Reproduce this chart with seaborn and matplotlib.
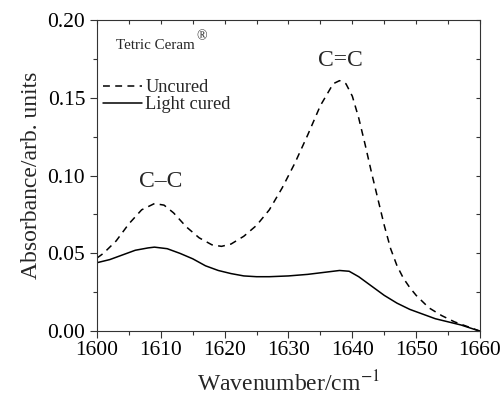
import numpy as np
import pandas as pd
import matplotlib
matplotlib.use('Agg')
import matplotlib.pyplot as plt
import seaborn as sns
from matplotlib.ticker import MultipleLocator

# Spectra
wn_uncured = [1600, 1601, 1603, 1605, 1607, 1609, 1610.5, 1612, 1614, 1616, 1618, 1619.5, 1621,
              1623, 1625, 1627, 1629, 1631, 1633, 1635, 1637, 1638, 1639, 1640, 1641, 1642,
              1643, 1644, 1645, 1646, 1647, 1648, 1649, 1650, 1652, 1654, 1656, 1658, 1660]
abs_uncured = [0.047, 0.050, 0.058, 0.069, 0.078, 0.082, 0.081, 0.076, 0.067, 0.060, 0.0555, 0.0545, 0.056,
               0.061, 0.068, 0.078, 0.092, 0.108, 0.126, 0.145, 0.159, 0.161, 0.159, 0.151, 0.137, 0.120,
               0.102, 0.085, 0.068, 0.053, 0.042, 0.034, 0.028, 0.023, 0.015, 0.010, 0.006, 0.003, 0.0]

wn_cured = [1600, 1602, 1604, 1606, 1608, 1609, 1611, 1613, 1615, 1617, 1619, 1621, 1623, 1625,
            1627, 1630, 1633, 1636, 1638, 1639.5, 1641, 1643, 1645, 1647, 1649, 1651, 1653,
            1655, 1657, 1660]
abs_cured = [0.044, 0.046, 0.049, 0.052, 0.0535, 0.054, 0.053, 0.050, 0.0465, 0.042, 0.039, 0.037, 0.0355, 0.035,
             0.035, 0.0355, 0.0365, 0.038, 0.039, 0.0385, 0.035, 0.029, 0.023, 0.018, 0.014, 0.011, 0.008,
             0.006, 0.004, 0.0]

sns.set_style('ticks')
plt.rcParams['font.family'] = ['Liberation Serif', 'DejaVu Serif']
plt.rcParams['mathtext.fontset'] = 'stix'

fig, ax = plt.subplots(figsize=(5, 3.99), dpi=100)
fig.subplots_adjust(left=0.194, right=0.96, top=0.95, bottom=0.17)

sns.lineplot(x=wn_uncured, y=abs_uncured, ax=ax, color='black', linewidth=1.1,
             linestyle=(0, (4.5, 3.5)), label='Uncured')
sns.lineplot(x=wn_cured, y=abs_cured, ax=ax, color='black', linewidth=1.1, label='Light cured')

ax.set_xlim(1600, 1660)
ax.set_ylim(0, 0.20)
ax.xaxis.set_major_locator(MultipleLocator(10))
ax.xaxis.set_minor_locator(MultipleLocator(5))
ax.yaxis.set_major_locator(MultipleLocator(0.05))
ax.yaxis.set_minor_locator(MultipleLocator(0.025))
ax.yaxis.set_major_formatter(matplotlib.ticker.FormatStrFormatter('%.2f'))

for s in ax.spines.values():
    s.set_linewidth(0.8)
    s.set_color('#333333')
ax.tick_params(which='both', direction='out', colors='#333333', labelcolor='black', labelsize=15.5)
ax.tick_params(which='major', length=5, width=0.8)
ax.tick_params(which='minor', length=3, width=0.8)
ax.tick_params(axis='x', pad=2)
# inward ticks on top/right via secondary axes
sec_x = ax.secondary_xaxis('top')
sec_x.set_xticks(np.arange(1600, 1661, 5))
sec_x.tick_params(direction='in', length=3, width=0.8, labeltop=False, colors='#333333')
sec_x.spines['top'].set_visible(False)
sec_y = ax.secondary_yaxis('right')
sec_y.set_yticks(np.arange(0, 0.201, 0.025))
sec_y.tick_params(direction='in', length=3, width=0.8, labelright=False, colors='#333333')
sec_y.spines['right'].set_visible(False)

ax.set_xlabel('Wavenumber/cm$^{-1}$', fontsize=17, labelpad=8)
ax.set_ylabel('Absorbance/arb. units', fontsize=17, labelpad=4)

ax.text(1602.9, 0.1835, 'Tetric Ceram', fontsize=10.8, va='center', ha='left')
ax.text(1615.6, 0.1895, '\u00ae', fontsize=10, va='center', ha='left')
ax.text(1610, 0.096, 'C\u2013C', fontsize=17, ha='center', va='center')
ax.text(1638.2, 0.174, 'C=C', fontsize=17, ha='center', va='center')

ax.legend(loc='upper left', bbox_to_anchor=(-0.013, 0.845), frameon=False, fontsize=13.2,
          handlelength=2.1, handletextpad=0.2, labelspacing=0.0, borderaxespad=0.2)

fig.savefig('out.png', dpi=100)
